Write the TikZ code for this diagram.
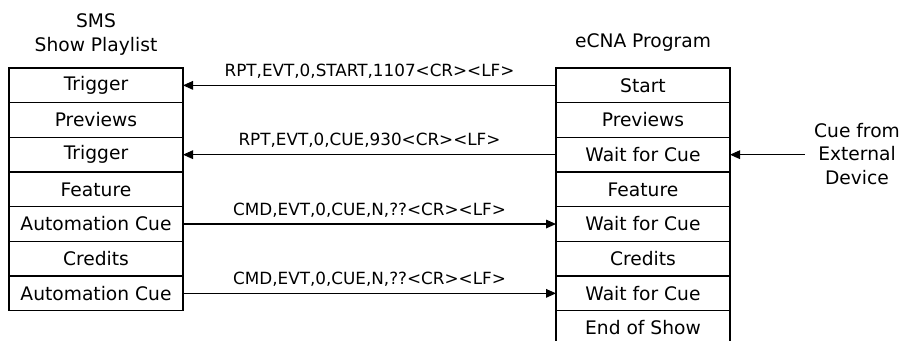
\documentclass[tikz,border=0pt]{standalone}
\usepackage{fontspec}
\setmainfont{DejaVu Sans}
\usetikzlibrary{arrows.meta}
\usetikzlibrary{positioning}

\tikzset{
	row/.style={draw, line width=0.9pt, minimum width=130.5pt, minimum height=26pt, inner sep=0pt, outer sep=0pt, font=\fontsize{14}{16}\selectfont},
	msg/.style={font=\fontsize{12.6}{14}\selectfont, inner sep=0.75pt},
	sig/.style={-{Triangle[length=7.5pt,width=6.5pt]}, line width=0.8pt},
	head/.style={align=center, font=\fontsize{14}{17.4}\selectfont, inner sep=0.75pt}
}

\begin{document}
\begin{tikzpicture}[x=0.75pt,y=0.75pt,yscale=-1,xscale=1]
	\path[use as bounding box] (0,0) rectangle (902,340);
	
	% Headings
	\node[head] (smstitle) at (96,34.5) {SMS\\Show Playlist};
	\node[head] (ecnatitle) at (643,43) {eCNA Program};
	
	% SMS show playlist column
	\node[row] (l1) at (96,85.35) {Trigger};
	\node[row, below=0pt of l1] (l2) {Previews};
	\node[row, below=0pt of l2] (l3) {Trigger};
	\node[row, below=0pt of l3] (l4) {Feature};
	\node[row, below=0pt of l4] (l5) {Automation Cue};
	\node[row, below=0pt of l5] (l6) {Credits};
	\node[row, below=0pt of l6] (l7) {Automation Cue};
	
	% eCNA program column
	\node[row] (r1) at (643,85.35) {Start};
	\node[row, below=0pt of r1] (r2) {Previews};
	\node[row, below=0pt of r2] (r3) {Wait for Cue};
	\node[row, below=0pt of r3] (r4) {Feature};
	\node[row, below=0pt of r4] (r5) {Wait for Cue};
	\node[row, below=0pt of r5] (r6) {Credits};
	\node[row, below=0pt of r6] (r7) {Wait for Cue};
	\node[row, below=0pt of r7] (r8) {End of Show};
	
	% External cue
	\node[head, inner xsep=7pt] (ext) at (857,154) {Cue from\\External\\Device};
	
	% Messages
	\draw[sig] (r1.west) -- (l1.east) node[msg, midway, above=4pt] {RPT,EVT,0,START,1107<CR><LF>};
	\draw[sig] (r3.west) -- (l3.east) node[msg, midway, above=4pt] {RPT,EVT,0,CUE,930<CR><LF>};
	\draw[sig] (l5.east) -- (r5.west) node[msg, midway, above=4pt] {CMD,EVT,0,CUE,N,??<CR><LF>};
	\draw[sig] (l7.east) -- (r7.west) node[msg, midway, above=4pt] {CMD,EVT,0,CUE,N,??<CR><LF>};
	\draw[sig] (ext.west |- r3.east) -- (r3.east);
	
\end{tikzpicture}
\end{document}
